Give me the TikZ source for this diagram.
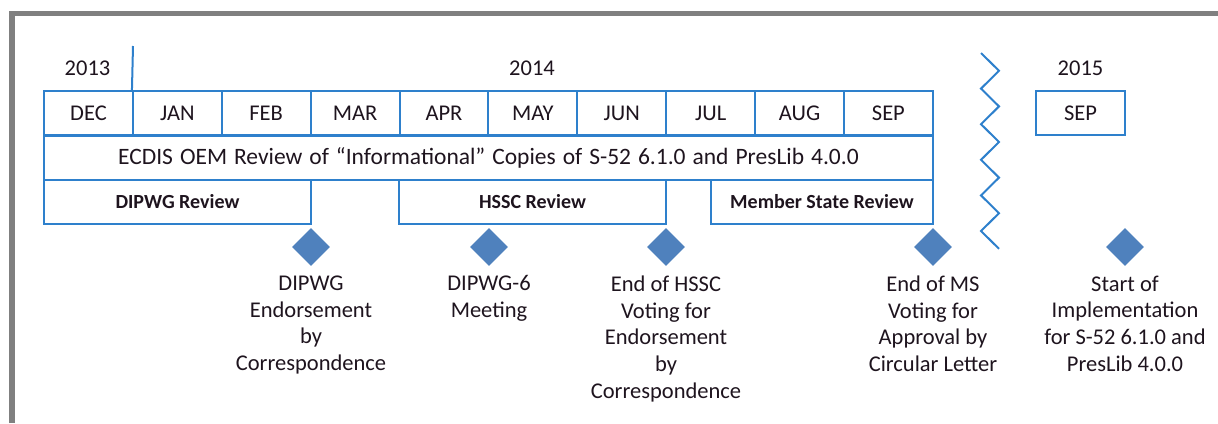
\documentclass[tikz,border=0pt]{standalone}
\usepackage{fontspec}
\setmainfont{Carlito}
\usetikzlibrary{shapes.geometric}
\definecolor{boxblue}{RGB}{46,128,204}
\definecolor{diablue}{RGB}{79,129,189}
\definecolor{framegray}{RGB}{128,128,128}
\definecolor{txt}{RGB}{30,20,30}
\newcommand{\mywidespace}{\spaceskip=7pt plus 1pt\relax}
\tikzset{
  cell/.style={draw=boxblue, line width=2pt, minimum width=88.9pt, minimum height=44pt, inner sep=0pt, text=txt, font=\fontsize{22.5}{27}\selectfont},
  bar/.style={draw=boxblue, line width=2pt, minimum height=44pt, inner sep=0pt, text=txt, font=\fontsize{23.5}{28}\selectfont},
  review/.style={draw=boxblue, line width=2pt, minimum height=44pt, inner sep=0pt, text=txt, font=\fontsize{20}{24}\selectfont\bfseries},
  yearlbl/.style={inner sep=0pt, text=txt, font=\fontsize{22.5}{27}\selectfont},
  milestone/.style={diamond, shape aspect=1, fill=diablue, minimum width=38pt, minimum height=38pt, inner sep=0pt},
  lbl/.style={align=center, anchor=north, inner sep=0pt, text=txt, font=\fontsize{22.5}{26.7}\selectfont},
  divider/.style={draw=boxblue, line width=2pt},
  frameline/.style={draw=framegray, line width=5.5pt}
}
\begin{document}
\begin{tikzpicture}[x=1pt,y=-1pt]
\useasboundingbox (0,0) rectangle (1218,423);
% frame
\draw[frameline] (12,423) -- (12,13.5) -- (1218,13.5);
% years
\node[yearlbl] (y2013) at (87.5,68) {2013};
\node[yearlbl] (y2014) at (532,68) {2014};
\node[yearlbl] (y2015) at (1080.5,68) {2015};
% months
\node[cell] (dec) at (88.5,113) {DEC};
\node[cell] (jan) at (177.4,113) {JAN};
\node[cell] (feb) at (266.2,113) {FEB};
\node[cell] (mar) at (355.1,113) {MAR};
\node[cell] (apr) at (444,113) {APR};
\node[cell] (may) at (532.9,113) {MAY};
\node[cell] (jun) at (621.8,113) {JUN};
\node[cell] (jul) at (710.7,113) {JUL};
\node[cell] (aug) at (799.6,113) {AUG};
\node[cell] (sep) at (888.4,113) {SEP};
\node[cell] (sep15) at (1080.5,113) {SEP};
% year divider
\coordinate (ytop) at (133,46);
\draw[divider] (ytop) -- (jan.north west);
% ECDIS bar
\node[bar, minimum width=889pt] (ecdis) at (488.5,157.5) {\mywidespace ECDIS OEM Review of “Informational” Copies of S-52 6.1.0 and PresLib 4.0.0};
% review bars
\node[review, minimum width=267pt] (dipwgrev) at (177.5,202) {DIPWG Review};
\node[review, minimum width=267pt] (hsscrev) at (532.5,202) {HSSC Review};
\node[review, minimum width=222pt] (msrev) at (822,202) {Member State Review};
% zigzag break
\draw[divider, line join=miter] (981,53) -- (999,70.8) -- (981,88.6) -- (999,106.4) -- (981,124.2) -- (999,142) -- (981,159.8) -- (999,177.6) -- (981,195.4) -- (999,213.2) -- (981,231) -- (999,248.8);
% milestones
\node[milestone] (m1) at (311,247) {};
\node[milestone] (m2) at (489,247) {};
\node[milestone] (m3) at (666,247) {};
\node[milestone] (m4) at (933,247) {};
\node[milestone] (m5) at (1125,247) {};
\node[lbl] (l1) at (311,275.5) {DIPWG\\Endorsement\\by\\Correspondence};
\node[lbl] (l2) at (489,275.5) {DIPWG-6\\Meeting};
\node[lbl] (l3) at (666,275.5) {End of HSSC\\Voting for\\Endorsement\\by\\Correspondence};
\node[lbl] (l4) at (933,275.5) {End of MS\\Voting for\\Approval by\\Circular Letter};
\node[lbl] (l5) at (1125,275.5) {Start of\\Implementation\\for S-52 6.1.0 and\\PresLib 4.0.0};
\end{tikzpicture}
\end{document}
